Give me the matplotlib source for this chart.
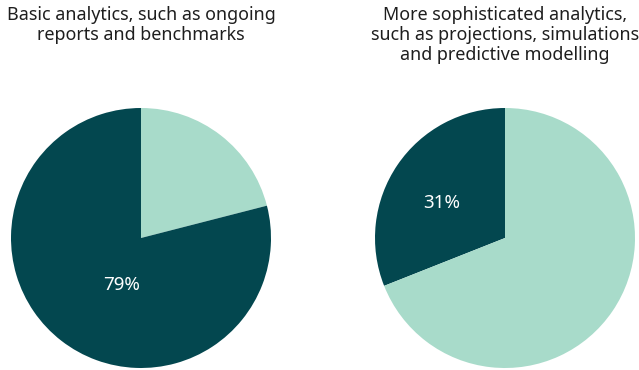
import matplotlib.pyplot as plt

titles = ["Basic analytics, such as ongoing\nreports and benchmarks",
          "More sophisticated analytics,\nsuch as projections, simulations\nand predictive modelling"]
light_share = [21, 69]
dark_share = [79, 31]

DARK = "#03474f"
LIGHT = "#a8dbca"

plt.rcParams["font.family"] = ["Noto Sans", "DejaVu Sans"]

fig = plt.figure(figsize=(6.39, 3.70), dpi=100)

# left pie: light slice clockwise from top; right pie: dark slice counter-clockwise from top
lefts = [11 / 639, 375 / 639]
label_pos = [(-0.15, -0.36), (-0.49, 0.27)]

for i in range(2):
    ax = fig.add_axes([lefts[i], 2 / 370, 260 / 639, 260 / 370])
    if i == 0:
        vals = [light_share[i], dark_share[i]]
        cols = [LIGHT, DARK]
        ax.pie(vals, colors=cols, startangle=90, counterclock=False,
               wedgeprops=dict(linewidth=0))
    else:
        vals = [dark_share[i], light_share[i]]
        cols = [DARK, LIGHT]
        ax.pie(vals, colors=cols, startangle=90, counterclock=True,
               wedgeprops=dict(linewidth=0))
    ax.set_xlim(-1, 1)
    ax.set_ylim(-1, 1)
    ax.set_aspect("equal")
    ax.text(label_pos[i][0], label_pos[i][1], f"{dark_share[i]}%", color="white",
            fontsize=13.5, ha="center", va="center")
    cx = lefts[i] + 130 / 639
    fig.text(cx, 1 - 6 / 370, titles[i], ha="center", va="top", fontsize=12.9,
             color="#1e1e1e", linespacing=1.15)

fig.savefig("out.png", dpi=100)
